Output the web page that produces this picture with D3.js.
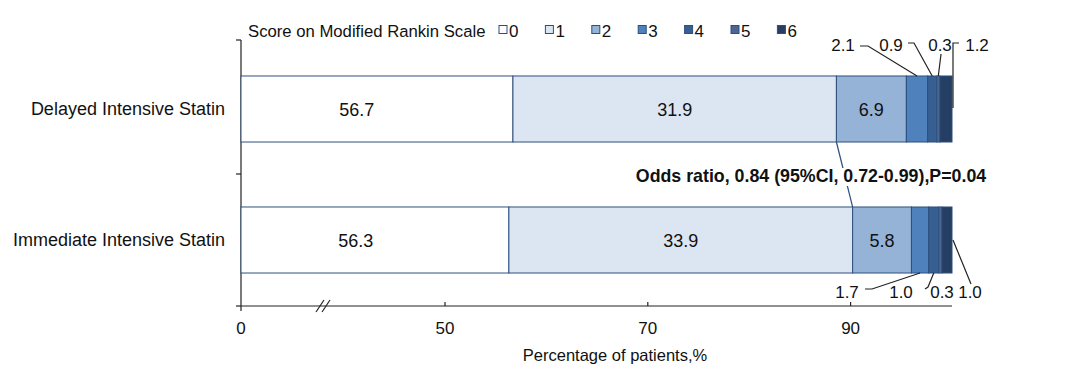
<!DOCTYPE html>
<html lang="en">
<head>
<meta charset="UTF-8">
<title>Modified Rankin Scale</title>
<script src="https://cdn.jsdelivr.net/npm/d3@7"></script>
<style>
  body { margin: 0; background: #fff; }
  text { font-family: "Liberation Sans", Arial, sans-serif; fill: #111; }
  .seg { stroke: #2e4f7e; stroke-width: 1; }
  .lead { stroke: #222; stroke-width: 1.2; fill: none; }
  .axis { stroke: #222; stroke-width: 1.2; }
</style>
</head>
<body>
<svg width="1080" height="387"></svg>
<script>
// data
var groups = ["Delayed Intensive Statin", "Immediate Intensive Statin"];
var scores = ["0", "1", "2", "3", "4", "5", "6"];
var delayed = [56.7, 31.9, 6.9, 2.1, 0.9, 0.3, 1.2];
var immediate = [56.3, 33.9, 5.8, 1.7, 1.0, 0.3, 1.0];
var xTicks = [0, 50, 70, 90];
var colors = ["#ffffff", "#dce6f2", "#95b3d7", "#4f81bd", "#366092", "#4a6891", "#243f63"];
var oddsText = "Odds ratio, 0.84 (95%CI, 0.72-0.99),P=0.04";

var svg = d3.select("svg");

// broken axis: 0..50 squeezed, 50..100 wide
var x = d3.scaleLinear().domain([0, 50, 100]).range([241, 445, 952]);
var y = d3.scaleBand().domain(groups).range([43.5, 305.5])
    .paddingInner(0.496).paddingOuter(0.248);

var rows = [delayed, immediate].map(function(vals, gi) {
  var cum = 0;
  return vals.map(function(v, i) {
    var d = { group: groups[gi], gi: gi, i: i, v: v, x0: cum, x1: cum + v };
    cum += v;
    return d;
  });
});

// axes lines
var axisY = 306;
svg.append("line").attr("class", "axis")
  .attr("x1", x(0)).attr("x2", x(0)).attr("y1", 40).attr("y2", 311);
[40, 174, axisY].forEach(function(t) {
  svg.append("line").attr("class", "axis")
    .attr("x1", x(0) - 5).attr("x2", x(0)).attr("y1", t).attr("y2", t);
});
svg.append("line").attr("class", "axis")
  .attr("x1", x(0)).attr("x2", x(100)).attr("y1", axisY).attr("y2", axisY);

var xt = svg.append("g");
xt.selectAll("line").data(xTicks.slice(1)).enter().append("line")
  .attr("class", "axis")
  .attr("x1", function(d) { return x(d); }).attr("x2", function(d) { return x(d); })
  .attr("y1", axisY - 4).attr("y2", axisY);
xt.selectAll("text").data(xTicks).enter().append("text")
  .attr("x", function(d) { return x(d); }).attr("y", 334)
  .attr("text-anchor", "middle").style("font-size", "17px")
  .text(function(d) { return d; });

// axis break marks
var bx = x(0) + 79;
[0, 6].forEach(function(o) {
  svg.append("line").attr("x1", bx - 4 + o).attr("y1", axisY + 6)
    .attr("x2", bx + 4 + o).attr("y2", axisY - 6)
    .attr("stroke", "#222").attr("stroke-width", 1.2);
});

svg.append("text").attr("x", 615).attr("y", 361).attr("text-anchor", "middle")
  .style("font-size", "16.5px").text("Percentage of patients,%");

// connector between the 0-1 boundaries, drawn under the odds text
var b1 = rows[0][1].x1, b2 = rows[1][1].x1;
svg.append("line").attr("stroke", "#2e4f7e").attr("stroke-width", 1.2)
  .attr("x1", x(b1)).attr("y1", y(groups[0]) + y.bandwidth())
  .attr("x2", x(b2)).attr("y2", y(groups[1]));

// bars
var bars = svg.append("g");
rows.forEach(function(row) {
  bars.selectAll(null).data(row).enter().append("rect")
    .attr("class", "seg")
    .attr("x", function(d) { return x(d.x0); })
    .attr("width", function(d) { return x(d.x1) - x(d.x0); })
    .attr("y", function(d) { return y(d.group); })
    .attr("height", y.bandwidth())
    .attr("fill", function(d) { return colors[d.i]; });
  bars.selectAll(null).data(row.filter(function(d) { return d.i < 3; })).enter().append("text")
    .attr("x", function(d) { return x((d.x0 + d.x1) / 2); })
    .attr("y", function(d) { return y(d.group) + y.bandwidth() / 2 + 7; })
    .attr("text-anchor", "middle").style("font-size", "18px")
    .text(function(d) { return d.v.toFixed(1); });
});

// group labels
svg.selectAll(".glab").data(groups).enter().append("text")
  .attr("x", 225).attr("y", function(d) { return y(d) + y.bandwidth() / 2 + 6; })
  .attr("text-anchor", "end").style("font-size", "18px")
  .text(function(d) { return d; });

// odds ratio text with white backing
var ot = svg.append("text").attr("x", 811).attr("y", 182).attr("text-anchor", "middle")
  .style("font-size", "17.8px").style("font-weight", "bold").text(oddsText);
var bb = ot.node().getBBox();
svg.insert("rect", function() { return ot.node(); })
  .attr("x", bb.x).attr("y", bb.y + 2)
  .attr("width", bb.width).attr("height", bb.height - 2).attr("fill", "#fff");

// small-segment labels with leader lines
function mid(d) { return x((d.x0 + d.x1) / 2); }
var topY = y(groups[0]), botY = y(groups[1]) + y.bandwidth();
var upper = rows[0], lower = rows[1];
var lab = svg.append("g").style("font-size", "17px");
function label(tx, ty, t) {
  lab.append("text").attr("x", tx).attr("y", ty).attr("text-anchor", "middle").text(t);
}
// delayed
label(843, 51, upper[3].v.toFixed(1));
lab.append("path").attr("class", "lead")
  .attr("d", "M860,46 L868,46 L" + mid(upper[3]) + "," + topY);
label(891, 51, upper[4].v.toFixed(1));
lab.append("path").attr("class", "lead")
  .attr("d", "M908,43 L914,43 L" + mid(upper[4]) + "," + topY);
label(940, 51, upper[5].v.toFixed(1));
lab.append("path").attr("class", "lead")
  .attr("d", "M941,54 L" + mid(upper[5]) + "," + topY);
label(977, 51, upper[6].v.toFixed(1));
lab.append("path").attr("class", "lead")
  .attr("d", "M959,43 L953,43 L953," + (topY + 32));
// immediate
label(847, 298, lower[3].v.toFixed(1));
lab.append("path").attr("class", "lead")
  .attr("d", "M865,289 L872,289 L" + mid(lower[3]) + "," + botY);
label(901, 298, lower[4].v.toFixed(1));
lab.append("path").attr("class", "lead")
  .attr("d", "M925,289 L928,287 L" + mid(lower[4]) + "," + botY);
label(942, 298, lower[5].v.toFixed(1));
label(970, 298, lower[6].v.toFixed(1));
lab.append("path").attr("class", "lead")
  .attr("d", "M953,240 L971,284");

// legend
var lg = svg.append("g").style("font-size", "17px");
lg.append("text").attr("x", 248).attr("y", 37).style("font-size", "16.7px")
  .text("Score on Modified Rankin Scale");
var li = lg.selectAll(".li").data(scores).enter().append("g")
  .attr("transform", function(d, i) { return "translate(" + (499 + i * 46.4) + ",0)"; });
li.append("rect").attr("x", 0).attr("y", 25.5).attr("width", 8).attr("height", 8)
  .attr("fill", function(d, i) { return colors[i]; })
  .attr("stroke", "#2e4f7e").attr("stroke-width", 1);
li.append("text").attr("x", 10).attr("y", 37).text(function(d) { return d; });
</script>
</body>
</html>
